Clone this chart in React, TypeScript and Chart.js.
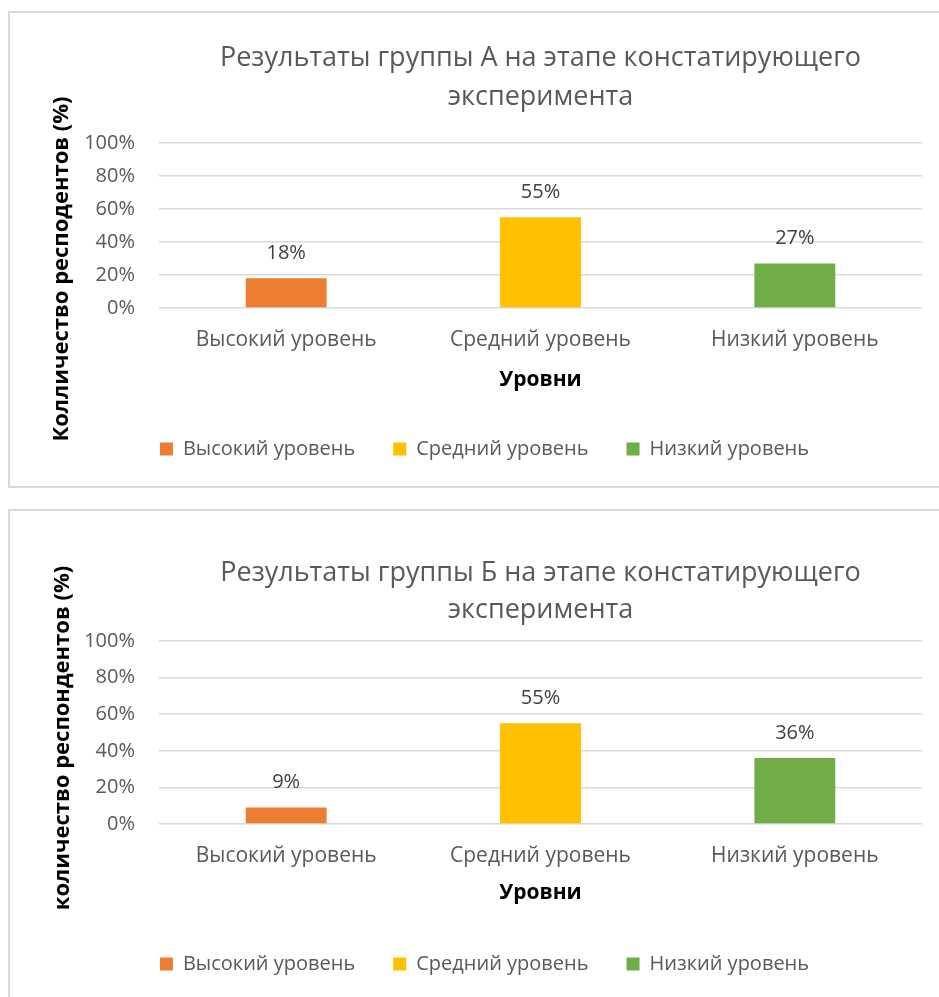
import React, { useEffect, useRef } from "react";
import { Chart, registerables } from "chart.js";

Chart.register(...registerables);

const categories = ["Высокий уровень", "Средний уровень", "Низкий уровень"];
const colors = ["#ED7D31", "#FFC000", "#70AD47"];
const valuesA = [18, 55, 27];
const valuesB = [9, 55, 36];
const titleA = ["Результаты группы А на этапе констатирующего", "эксперимента"];
const titleB = ["Результаты группы Б на этапе констатирующего", "эксперимента"];
const yTitleA = "Колличество респодентов (%)";
const yTitleB = "количество респондентов (%)";
const xTitle = "Уровни";
const yTicks = [0, 20, 40, 60, 80, 100];

const FONT = "'Open Sans', Lato, sans-serif";

const valueLabels = {
  id: "valueLabels",
  afterDatasetsDraw(chart: any) {
    const ctx = chart.ctx;
    const meta = chart.getDatasetMeta(0);
    const data = chart.data.datasets[0].data;
    ctx.save();
    ctx.font = `20px ${FONT}`;
    ctx.fillStyle = "#404040";
    ctx.textAlign = "center";
    ctx.textBaseline = "middle";
    meta.data.forEach((bar: any, i: number) => {
      ctx.fillText(`${data[i]}%`, bar.x, bar.y - 25);
    });
    ctx.restore();
  },
};

const sideTitle = {
  id: "sideTitle",
  afterDraw(chart: any, _args: any, opts: any) {
    if (!opts || !opts.text) return;
    const ctx = chart.ctx;
    ctx.save();
    ctx.translate(opts.x, opts.y);
    ctx.rotate(-Math.PI / 2);
    ctx.font = `bold 22px ${FONT}`;
    ctx.fillStyle = "#000000";
    ctx.textAlign = "center";
    ctx.textBaseline = "middle";
    ctx.fillText(opts.text, 0, 0);
    ctx.restore();
  },
};

type Props = {
  values: number[];
  title: string[];
  yTitle: string;
  top: number;
  height: number;
  titleLineHeight: number;
  titlePadTop: number;
  titlePadBottom: number;
  xHeight: number;
  xTitlePadBottom: number;
  padBottom: number;
  yTitlePos: { x: number; y: number };
};

function BarChart(p: Props) {
  const ref = useRef<HTMLCanvasElement>(null);
  useEffect(() => {
    if (!ref.current) return;
    const chart = new Chart(ref.current, {
      type: "bar",
      data: {
        labels: categories,
        datasets: [
          {
            data: p.values,
            backgroundColor: colors,
            borderWidth: 0,
            categoryPercentage: 1,
            barPercentage: 0.318,
          },
        ],
      },
      plugins: [valueLabels, sideTitle],
      options: {
        responsive: false,
        animation: false,
        devicePixelRatio: 1,
        layout: { padding: { left: 47, right: 47, top: 0, bottom: p.padBottom } },
        scales: {
          x: {
            grid: { display: false, drawTicks: false },
            border: { display: false },
            ticks: { color: "#595959", font: { family: FONT, size: 21 }, padding: 19 },
            title: {
              display: true,
              text: xTitle,
              color: "#000000",
              font: { family: FONT, size: 21, weight: "bold" },
              padding: { top: 0, bottom: p.xTitlePadBottom },
            },
            afterFit: (s: any) => {
              s.height = p.xHeight;
            },
          },
          y: {
            min: 0,
            max: 100,
            grid: { color: "#d9d9d9", lineWidth: 1.5, drawTicks: false },
            border: { display: false },
            afterBuildTicks: (s: any) => {
              s.ticks = yTicks.map((v) => ({ value: v }));
            },
            ticks: {
              color: "#595959",
              font: { family: FONT, size: 20 },
              padding: 24,
              callback: (v: any) => `${v}%`,
            },
            afterFit: (s: any) => {
              s.width = 159 - 47;
            },
          },
        },
        plugins: {
          title: {
            display: true,
            text: p.title,
            fullSize: false,
            color: "#595959",
            font: { family: FONT, size: 27, weight: "normal", lineHeight: p.titleLineHeight / 27 },
            padding: { top: p.titlePadTop, bottom: p.titlePadBottom },
          },
          legend: {
            position: "bottom",
            onClick: () => {},
            labels: {
              boxWidth: 13,
              boxHeight: 13,
              padding: 38,
              color: "#595959",
              font: { family: FONT, size: 20 },
              generateLabels: () =>
                categories.map((c, i) => ({
                  text: c,
                  fillStyle: colors[i],
                  strokeStyle: colors[i],
                  lineWidth: 0,
                  hidden: false,
                  index: i,
                  fontColor: "#595959",
                })),
            },
          },
          tooltip: { enabled: false },
          sideTitle: { text: p.yTitle, x: p.yTitlePos.x, y: p.yTitlePos.y },
        } as any,
      },
    });
    return () => chart.destroy();
  }, []);
  return (
    <canvas
      ref={ref}
      width={969}
      height={p.height}
      style={{ position: "absolute", left: 0, top: p.top, width: 969, height: p.height }}
    />
  );
}

const boxStyle = (top: number, height: number): React.CSSProperties => ({
  position: "absolute",
  left: 8,
  top,
  width: 1000,
  height,
  border: "2px solid #d9d9d9",
  boxSizing: "border-box",
  background: "#ffffff",
});

export default function App() {
  return (
    <div
      style={{
        position: "fixed",
        left: 0,
        top: 0,
        width: 939,
        height: 997,
        overflow: "hidden",
        background: "#ffffff",
      }}
    >
      <div style={boxStyle(11, 477)} />
      <div style={boxStyle(509, 600)} />
      <BarChart
        values={valuesA}
        title={titleA}
        yTitle={yTitleA}
        top={11}
        height={477}
        titleLineHeight={39}
        titlePadTop={27.5}
        titlePadBottom={26.5}
        xHeight={93}
        xTitlePadBottom={8.4}
        padBottom={19}
        yTitlePos={{ x: 62, y: 269 - 11 }}
      />
      <BarChart
        values={valuesB}
        title={titleB}
        yTitle={yTitleB}
        top={509}
        height={488}
        titleLineHeight={37}
        titlePadTop={45.5}
        titlePadBottom={12.5}
        xHeight={92}
        xTitlePadBottom={10.4}
        padBottom={13}
        yTitlePos={{ x: 63, y: 738 - 509 }}
      />
    </div>
  );
}
